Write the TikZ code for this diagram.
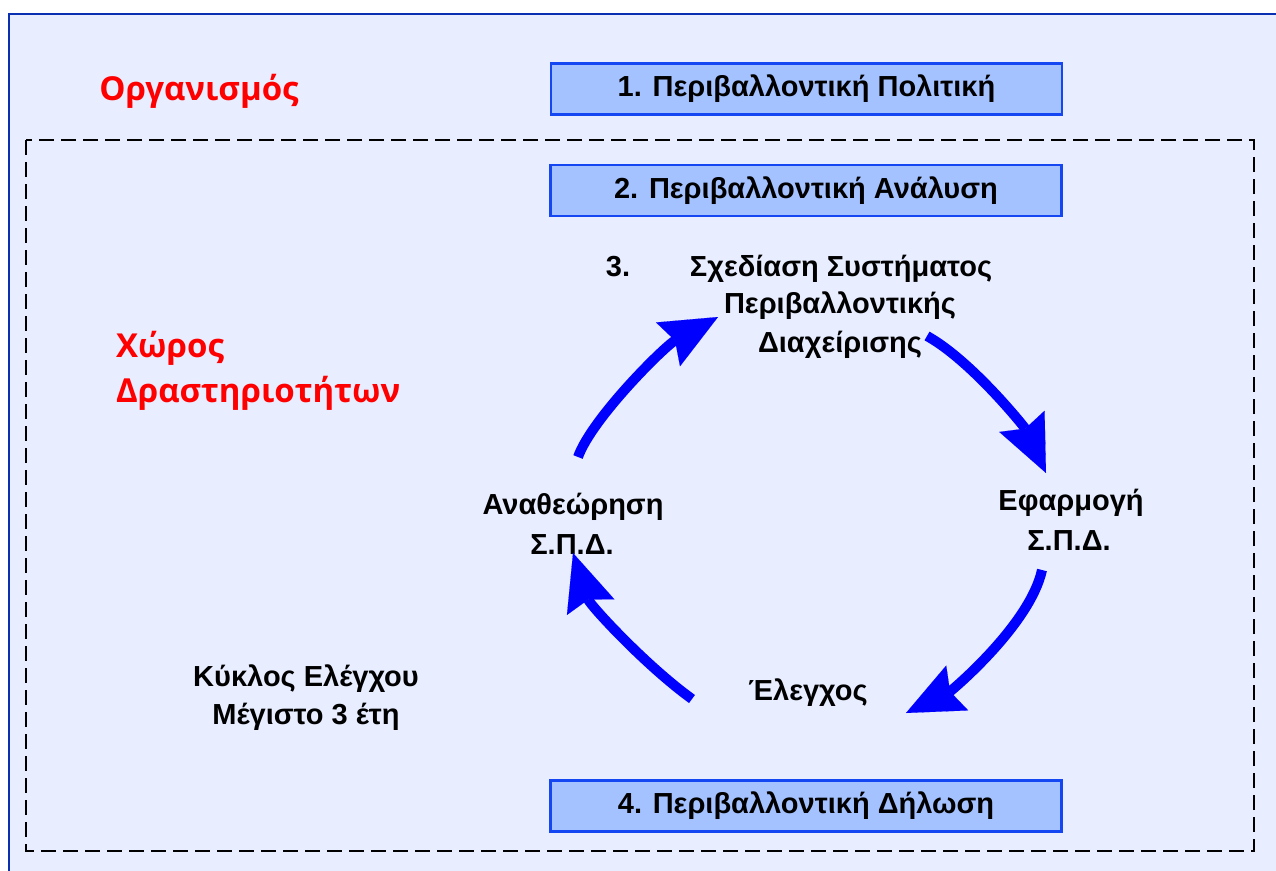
\documentclass[tikz,border=0pt]{standalone}
\usepackage{fontspec}
\setmainfont{Liberation Sans}
\newfontfamily\redfont{Open Sans}
\usetikzlibrary{arrows.meta}
\definecolor{bgc}{HTML}{E8EEFF}
\definecolor{boxfill}{HTML}{A4C2FF}
\definecolor{boxline}{HTML}{1446F2}
\definecolor{framec}{HTML}{0A2FB0}
\definecolor{arrowc}{HTML}{0000FF}
\begin{document}
\begin{tikzpicture}[x=1pt,y=-1pt,
  stagebox/.style={draw=boxline, line width=2.5pt, fill=boxfill, minimum width=511pt, minimum height=51pt, inner sep=0pt, font=\bfseries\fontsize{29}{32}\selectfont},
  lbl/.style={font=\bfseries\fontsize{29}{32}\selectfont, inner sep=0pt, anchor=base},
  redlbl/.style={text=red, font=\redfont\bfseries\fontsize{33}{40}\selectfont, inner sep=0pt, anchor=base},
  cyc/.style={draw=arrowc, line width=10pt, -{Stealth[length=57pt,width=50pt,inset=8pt,line width=0.1pt]}}
]
\clip (0,0) rectangle (1276,870);
\fill[white] (0,0) rectangle (1276,870);
\draw[framec, line width=2.5pt, fill=bgc] (9,14) rectangle (1300,900);
\draw[dash pattern=on 15pt off 7pt, line width=2pt] (26,140) rectangle (1254,851);

% titles
\node[redlbl] (org) at (199,100) {Οργανισμός};
\node[redlbl, anchor=base west] (xw1) at (116,357) {Χώρος};
\node[redlbl, anchor=base west] (xw2) at (116,402) {Δραστηριοτήτων};

% boxes
\node[stagebox] (b1) at (806.5,89) {1. Περιβαλλοντική Πολιτική};
\node[stagebox] (b2) at (806,190.5) {2. Περιβαλλοντική Ανάλυση};
\node[stagebox] (b4) at (806,806) {4. Περιβαλλοντική Δήλωση};

% cycle labels
\node[lbl] (n3) at (618,276) {3.};
\node[lbl] (s1) at (841,276) {Σχεδίαση Συστήματος};
\node[lbl] (s2) at (840,313) {Περιβαλλοντικής};
\node[lbl] (s3) at (840,352) {Διαχείρισης};
\node[lbl] (e1) at (1071,510) {Εφαρμογή};
\node[lbl] (e2) at (1069,550) {Σ.Π.Δ.};
\node[lbl] (a1) at (573,514) {Αναθεώρηση};
\node[lbl] (a2) at (572,554) {Σ.Π.Δ.};
\node[lbl] (el) at (808,700) {Έλεγχος};
\node[lbl] (k1) at (306,686) {Κύκλος Ελέγχου};
\node[lbl] (k2) at (306,724) {Μέγιστο 3 έτη};

% arrows
\coordinate (p1s) at (578,457); \coordinate (p1e) at (718,317);
\coordinate (p2s) at (927,336); \coordinate (p2e) at (1046,473);
\coordinate (p3s) at (1042,570); \coordinate (p3e) at (906,713);
\coordinate (p4s) at (692,699); \coordinate (p4e) at (573,553);
\draw[cyc] (p1s) .. controls (592,418) and (665,346) .. (p1e);
\draw[cyc] (p2s) .. controls (972,361) and (1025,428) .. (p2e);
\draw[cyc] (p3s) .. controls (1030,625) and (951,691) .. (p3e);
\draw[cyc] (p4s) .. controls (645,665) and (590,605) .. (p4e);
\end{tikzpicture}
\end{document}
